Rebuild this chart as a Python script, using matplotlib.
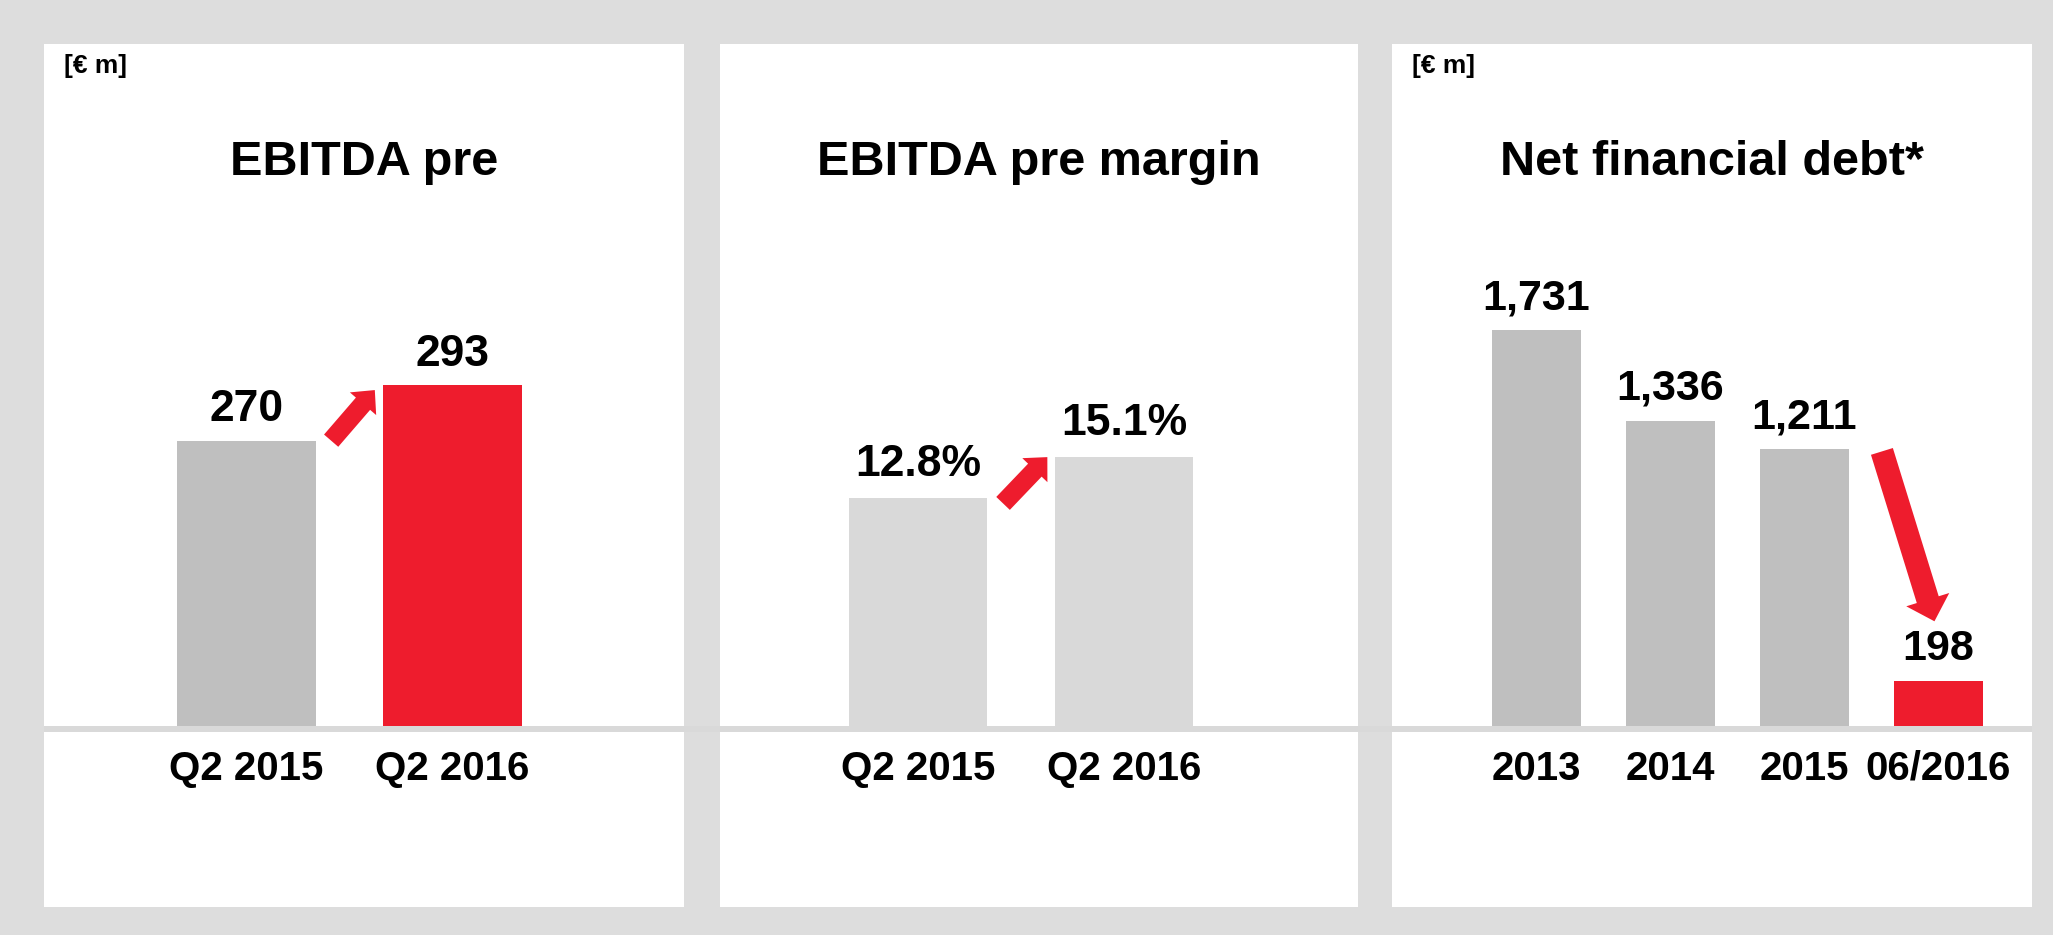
"""
plot.py - three KPI panels (EBITDA pre, margin, net financial debt).
Output: out.png
"""

import matplotlib.pyplot as plt
from matplotlib.patches import Rectangle, FancyArrowPatch, ArrowStyle
from matplotlib.lines import Line2D

# ── Data ──────────────────────────────────────────────────────────────────────

ebitda_periods = ["Q2 2015", "Q2 2016"]
ebitda_values = [270, 293]

margin_periods = ["Q2 2015", "Q2 2016"]
margin_values = [12.8, 15.1]

debt_periods = ["2013", "2014", "2015", "06/2016"]
debt_values = [1731, 1336, 1211, 198]

# ── Style ─────────────────────────────────────────────────────────────────────

BG_GREY = "#DDDDDD"
BAR_GREY = "#BFBFBF"
BAR_LIGHT = "#D9D9D9"
RED = "#EE1C2D"

W, H, DPI = 2053, 935, 100
BASE_Y = 726   # pixel row of the common baseline
TOP_Y = 44
BOTTOM_Y = 907

plt.rcParams["font.family"] = ["Liberation Sans", "DejaVu Sans"]
plt.rcParams["font.weight"] = "bold"


def fx(px):
    return px / W


def fy(py):
    return 1 - py / H


def panel(fig, x0, x1, xlim, ylim):
    fig.add_artist(Rectangle((fx(x0), fy(BOTTOM_Y)), fx(x1 - x0), (BOTTOM_Y - TOP_Y) / H,
                             transform=fig.transFigure, facecolor="white",
                             edgecolor="none", zorder=-1))
    ax = fig.add_axes([fx(x0), fy(BASE_Y), fx(x1 - x0), (BASE_Y - TOP_Y) / H])
    ax.set_facecolor("none")
    ax.set_xlim(*xlim)
    ax.set_ylim(*ylim)
    for s in ax.spines.values():
        s.set_visible(False)
    ax.tick_params(axis="x", length=0, pad=17, labelsize=29)
    ax.set_yticks([])
    return ax


def labels(ax, xs, values, texts, offset=15, size=32):
    for x, v, t in zip(xs, values, texts):
        ax.annotate(t, (x, v), xytext=(0, offset), textcoords="offset points",
                    ha="center", va="baseline", fontsize=size, fontweight="bold")


def arrow(ax, tail, tip, tail_w, head_w, head_l):
    style = ArrowStyle.Simple(head_length=head_l, head_width=head_w, tail_width=tail_w)
    ax.add_patch(FancyArrowPatch(tail, tip, arrowstyle=style, mutation_scale=1,
                                 shrinkA=0, shrinkB=0, color=RED, lw=0,
                                 clip_on=False, zorder=3))


def headers(ax, title, unit=True):
    ax.text(0.5, 0.808, title, transform=ax.transAxes, ha="center",
            va="baseline", fontsize=35, fontweight="bold")
    if unit:
        ax.text(0.032, 0.958, "[€ m]", transform=ax.transAxes, ha="left",
                va="baseline", fontsize=19, fontweight="bold")


def main():
    fig = plt.figure(figsize=(W / DPI, H / DPI), dpi=DPI, facecolor=BG_GREY)

    # panel 1: EBITDA pre (truncated axis as in the original)
    ax1 = panel(fig, 44, 684, (-0.981, 2.126), (151.6, 434.6))
    x = list(range(len(ebitda_values)))
    ax1.bar(x, ebitda_values, width=0.675, color=[BAR_GREY, RED])
    ax1.set_xticks(x, ebitda_periods)
    labels(ax1, x, ebitda_values, [f"{v:,}" for v in ebitda_values], offset=14)
    arrow(ax1, (x[0] + 0.413, ebitda_values[0]), (x[1] - 0.375, ebitda_values[1] - 2),
          13.5, 25, 13)
    headers(ax1, "EBITDA pre")

    # panel 2: EBITDA pre margin
    ax2 = panel(fig, 720, 1358, (-0.961, 2.136), (0, 38.3))
    x = list(range(len(margin_values)))
    ax2.bar(x, margin_values, width=0.67, color=BAR_LIGHT)
    ax2.set_xticks(x, margin_periods)
    labels(ax2, x, margin_values, [f"{v:.1f}%" for v in margin_values], offset=16)
    arrow(ax2, (x[0] + 0.413, margin_values[0] - 0.3), (x[1] - 0.372, margin_values[1]),
          13.5, 25, 13)
    headers(ax2, "EBITDA pre margin", unit=False)

    # panel 3: net financial debt
    ax3 = panel(fig, 1392, 2032, (-1.078, 3.698), (0, 2983))
    x = list(range(len(debt_values)))
    ax3.bar(x, debt_values, width=0.664, color=[BAR_GREY] * 3 + [RED])
    ax3.set_xticks(x, debt_periods)
    labels(ax3, x, debt_values, [f"{v:,}" for v in debt_values], offset=15, size=31)
    arrow(ax3, (x[2] + 0.578, debt_values[2] - 10), (x[3] - 0.03, debt_values[3] + 260),
          16.5, 32.4, 16.3)
    headers(ax3, "Net financial debt*")

    # common baseline band
    fig.add_artist(Line2D([fx(44), fx(2032)], [fy(729), fy(729)], transform=fig.transFigure,
                          color=BAR_LIGHT, lw=4.3, solid_capstyle="butt"))

    fig.savefig("out.png", dpi=DPI, facecolor=fig.get_facecolor())
    plt.close(fig)


if __name__ == "__main__":
    main()
